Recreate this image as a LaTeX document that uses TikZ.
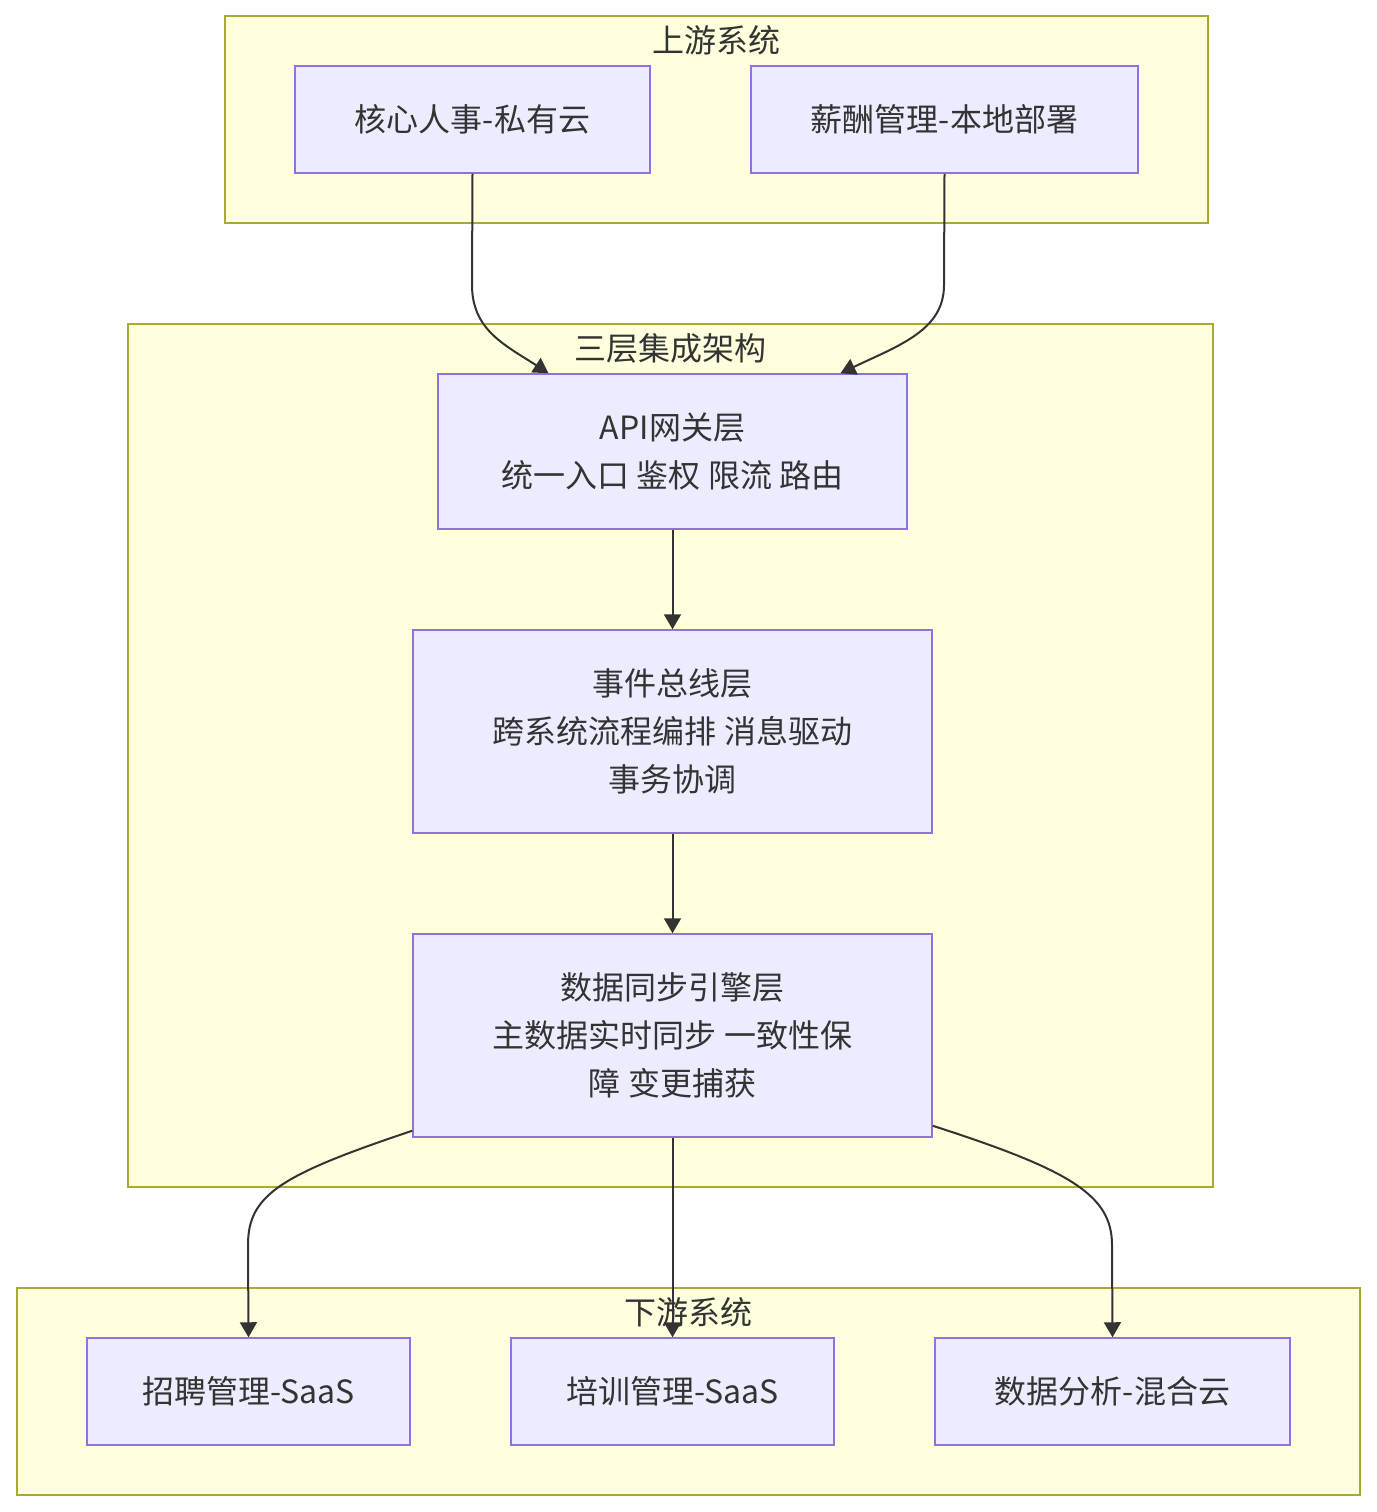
\documentclass[tikz,border=0pt]{standalone}
\usepackage{fontspec}
\setmainfont{Noto Sans CJK SC}
\usetikzlibrary{arrows.meta}
\definecolor{clusterFill}{HTML}{FFFFDE}
\definecolor{clusterLine}{HTML}{AAAA33}
\definecolor{nodeFill}{HTML}{ECECFF}
\definecolor{nodeLine}{HTML}{9370DB}
\definecolor{edgeGray}{HTML}{333333}
\tikzset{
  clusterbox/.style={draw=clusterLine, fill=clusterFill, line width=1.5pt, inner sep=0pt},
  clustertitle/.style={text=edgeGray, font=\fontsize{32}{36}\selectfont, inner sep=0pt},
  procbox/.style={draw=nodeLine, fill=nodeFill, line width=1.5pt, inner sep=0pt, align=center,
    text=edgeGray, font=\fontsize{32}{48}\selectfont},
  flow/.style={draw=edgeGray, line width=2pt, -{Triangle[length=15pt,width=17pt]}}
}
\begin{document}
\begin{tikzpicture}[x=1pt, y=-1pt]
\useasboundingbox (0,0) rectangle (1376,1512);
% Clusters
\node[clusterbox, minimum width=983pt, minimum height=207pt] (upstream) at (716.5,119.5) {};
\node[clustertitle] (upstreamTitle) at (716.5,40) {上游系统};
\node[clusterbox, minimum width=1085pt, minimum height=863pt] (tiers) at (670.5,755.5) {};
\node[clustertitle] (tiersTitle) at (670.5,348) {三层集成架构};
\node[clusterbox, minimum width=1343pt, minimum height=207pt] (downstream) at (688.5,1391.5) {};
\node[clustertitle] (downstreamTitle) at (688.5,1312) {下游系统};
% Upstream systems
\node[procbox, minimum width=355pt, minimum height=107pt] (coreHR) at (472.5,119.5) {核心人事-私有云};
\node[procbox, minimum width=387pt, minimum height=107pt] (payroll) at (944.5,119.5) {薪酬管理-本地部署};
% Integration tiers
\node[procbox, minimum width=469pt, minimum height=155pt] (apiGate) at (672.5,451.5) {API网关层\\统一入口 鉴权 限流 路由};
\node[procbox, minimum width=519pt, minimum height=203pt] (eventBus) at (672.5,731.5) {事件总线层\\跨系统流程编排 消息驱动\\事务协调};
\node[procbox, minimum width=519pt, minimum height=203pt] (dataSync) at (672.5,1035.5) {数据同步引擎层\\主数据实时同步 一致性保\\障 变更捕获};
% Downstream systems
\node[procbox, minimum width=323pt, minimum height=107pt] (recruit) at (248.5,1391.5) {招聘管理-SaaS};
\node[procbox, minimum width=323pt, minimum height=107pt] (training) at (672.5,1391.5) {培训管理-SaaS};
\node[procbox, minimum width=355pt, minimum height=107pt] (analytics) at (1112.5,1391.5) {数据分析-混合云};
% Edges
\draw[flow] (coreHR.south) -- (472,285) .. controls (472,330) and (505,345) .. ([xshift=-124pt]apiGate.north);
\draw[flow] (payroll.south) -- (944,285) .. controls (944,330) and (900,345) .. ([xshift=168pt]apiGate.north);
\draw[flow] (apiGate.south) -- (eventBus.north);
\draw[flow] (eventBus.south) -- (dataSync.north);
\draw[flow] ([yshift=7pt]dataSync.south west) .. controls (280,1175) and (248,1195) .. (248,1245) -- (recruit.north);
\draw[flow] (dataSync.south) -- (training.north);
\draw[flow] ([yshift=12pt]dataSync.south east) .. controls (1070,1170) and (1112,1195) .. (1112,1245) -- (analytics.north);
\end{tikzpicture}
\end{document}
